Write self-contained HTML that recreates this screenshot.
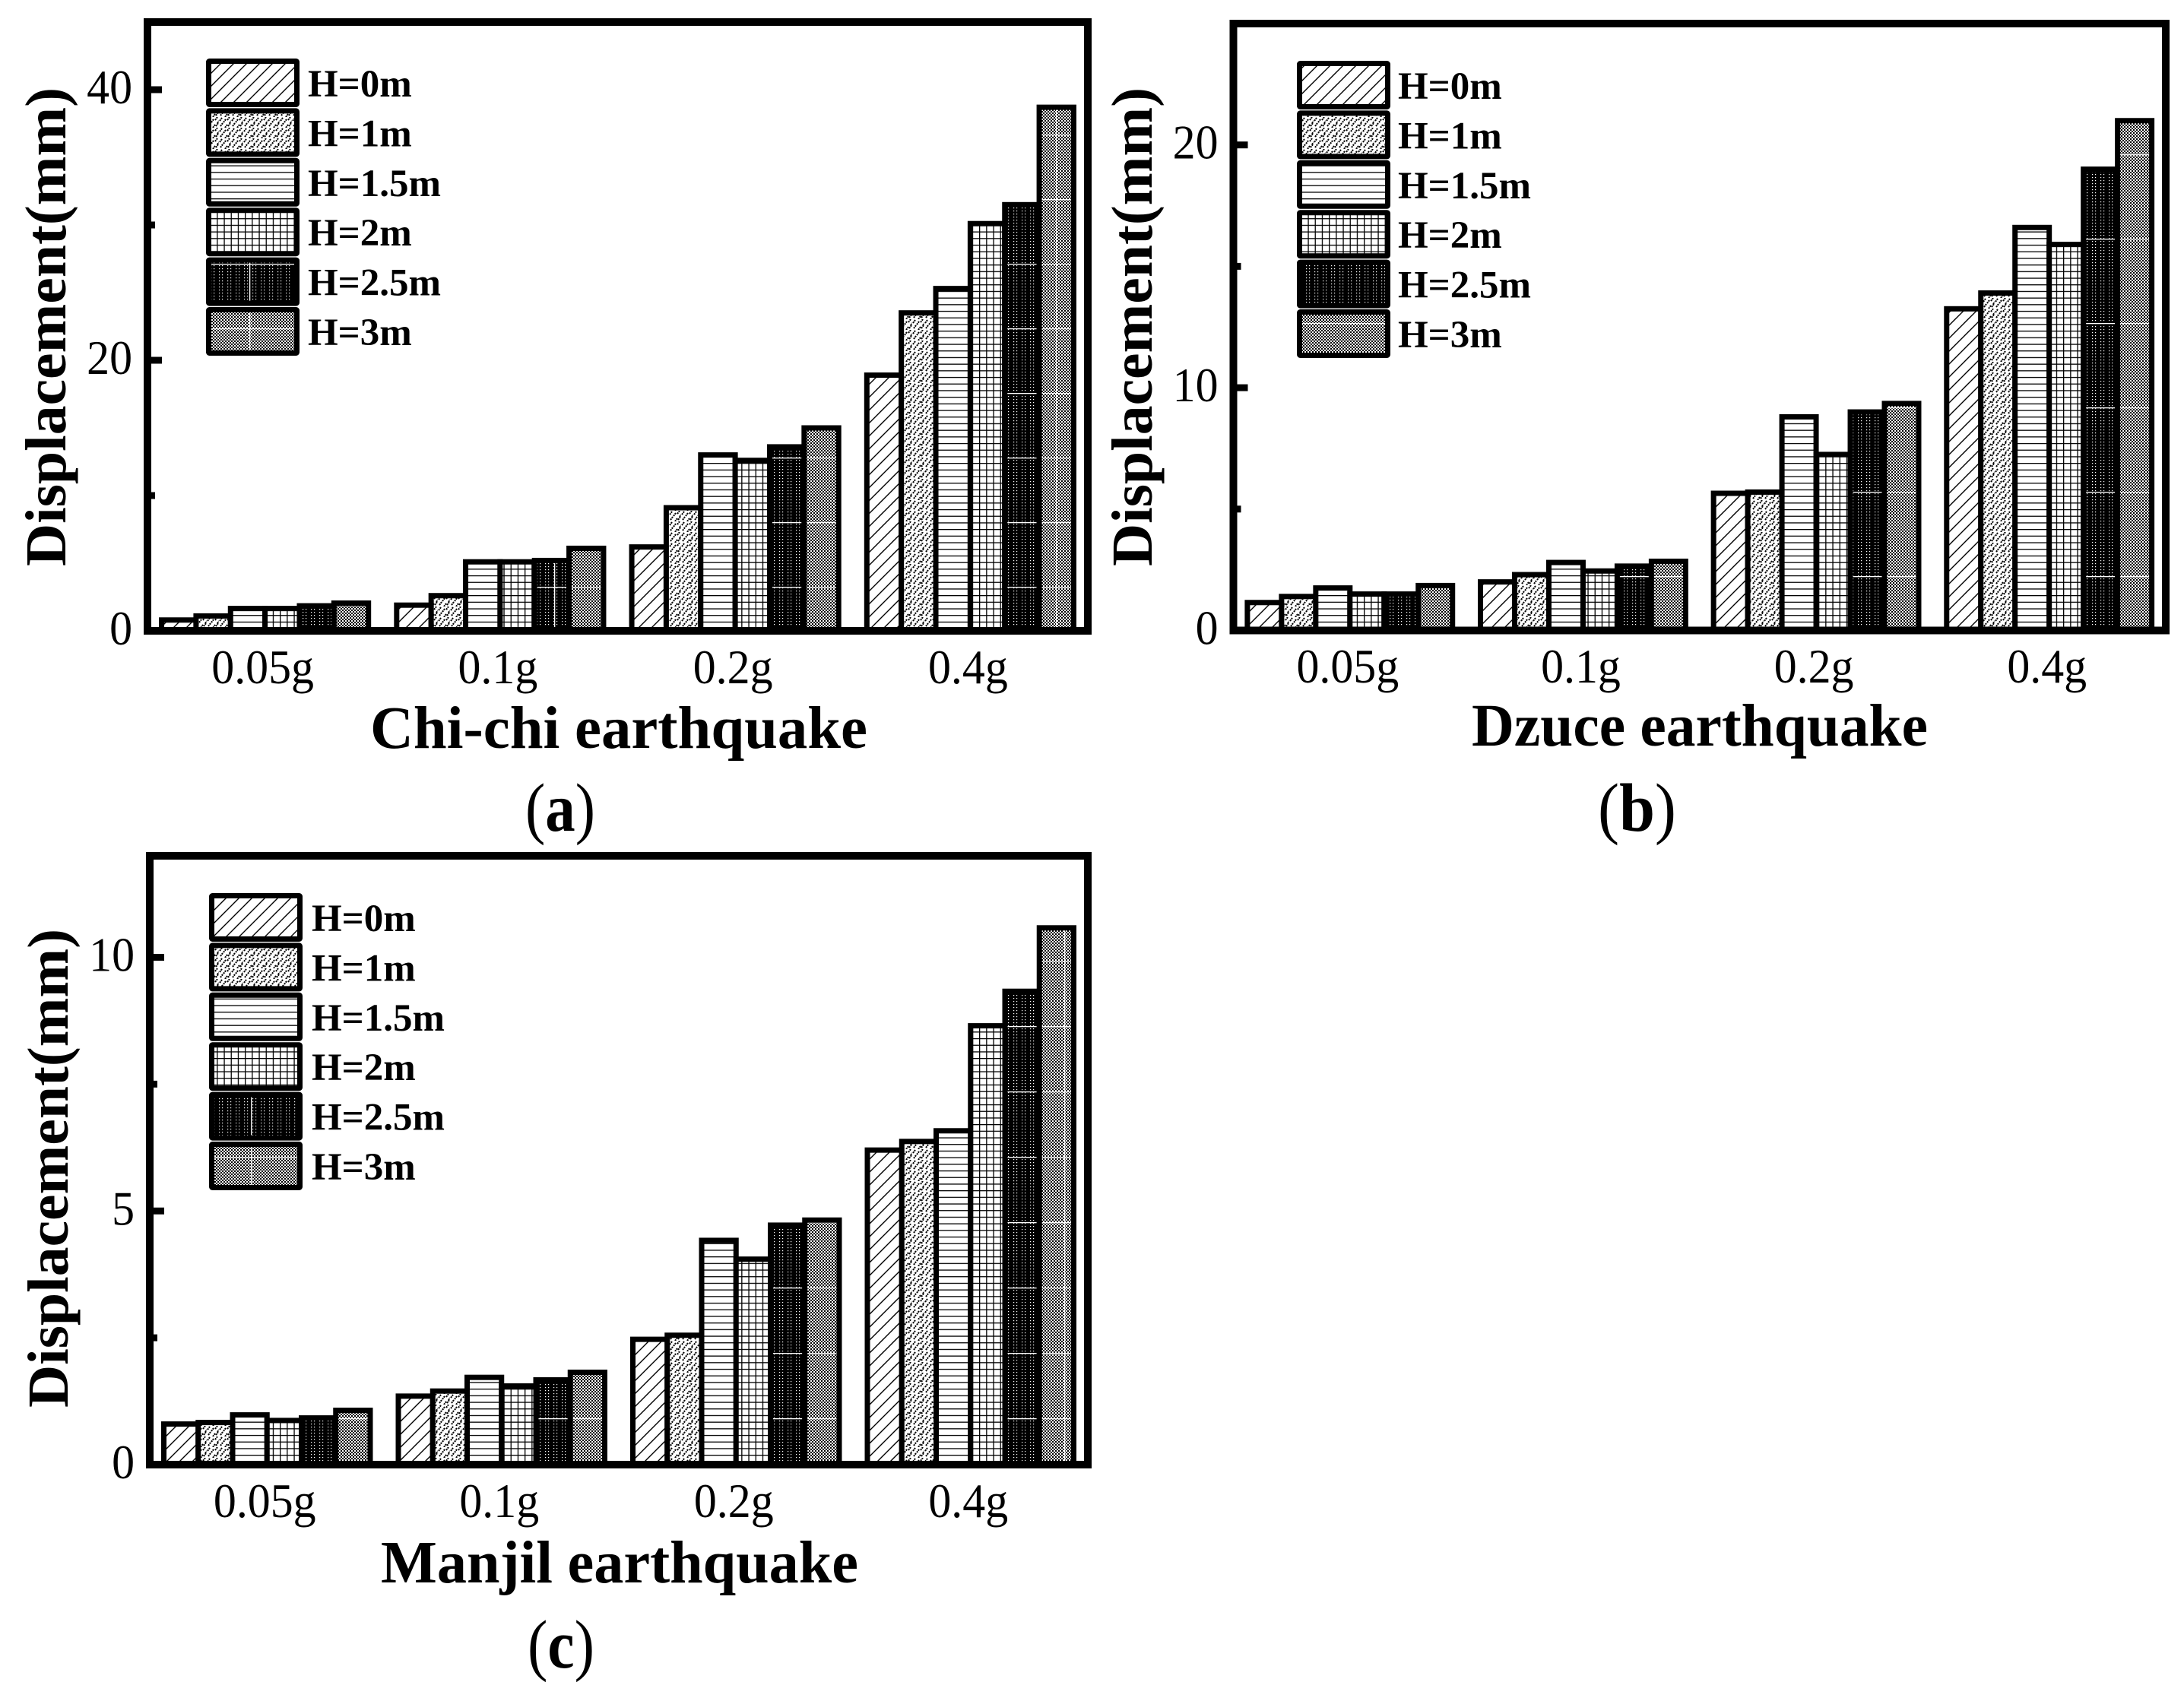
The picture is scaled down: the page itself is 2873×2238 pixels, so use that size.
<!DOCTYPE html>
<html lang="en">
<head>
<meta charset="utf-8">
<title>Displacement under earthquakes</title>
<style>
html,body{margin:0;padding:0;background:#fff;}
svg{display:block;}
text{font-family:"Liberation Serif",serif;fill:#000;}
.b{font-weight:bold;}
.tick{font-size:63px;}
.leg{font-size:51px;font-weight:bold;}
.ytitle{font-size:76px;font-weight:bold;}
.xtitle{font-size:79px;font-weight:bold;}
.panel{font-size:90px;}
</style>
</head>
<body>
<svg id="fig" xmlns="http://www.w3.org/2000/svg" width="2873" height="2238" viewBox="0 0 2873 2238">
<defs>
<pattern id="p0" patternUnits="userSpaceOnUse" width="17" height="17">
<rect width="17" height="17" fill="#fff"/>
<path d="M-2 19L19 -2M-2 2L2 -2M15 19L19 15" stroke="#000" stroke-width="1.4" fill="none"/>
</pattern>
<pattern id="p1" patternUnits="userSpaceOnUse" width="16" height="14">
<rect width="16" height="14" fill="#fff"/>
<path d="M1 5l3-4M6 7l3-4M11 4l3-4M14 8l2-3M2 12l3-4M8 14l3-4M12 12l3-4" stroke="#000" stroke-width="2" fill="none" stroke-dasharray="2 1"/>
</pattern>
<pattern id="p2" patternUnits="userSpaceOnUse" width="9" height="8.7">
<rect width="9" height="8.7" fill="#fff"/>
<rect y="0" width="9" height="1.3" fill="#000"/>
</pattern>
<pattern id="p3" patternUnits="userSpaceOnUse" width="9.2" height="8.7">
<rect width="9.2" height="8.7" fill="#fff"/>
<rect y="0" width="9.2" height="1.3" fill="#000"/>
<rect x="0" width="1.3" height="8.7" fill="#000"/>
</pattern>
<pattern id="p4" patternUnits="userSpaceOnUse" width="11" height="4">
<rect width="11" height="4" fill="#000"/>
<rect x="2" y="1" width="1.2" height="1.2" fill="#fff"/>
<rect x="6" y="1" width="1.2" height="1.2" fill="#fff"/>
</pattern>
<pattern id="p5" patternUnits="userSpaceOnUse" width="4" height="4">
<rect width="4" height="4" fill="#fff"/>
<rect width="2" height="2" fill="#000"/>
<rect x="2" y="2" width="2" height="2" fill="#000"/>
</pattern>
<pattern id="ovA" patternUnits="userSpaceOnUse" x="0" y="7" width="2873" height="85">
<rect width="2873" height="1.3" fill="#fff"/>
<rect x="328" width="1.3" height="85" fill="#fff"/>
<rect x="729" width="1.3" height="85" fill="#fff"/>
<rect x="1389" width="1.3" height="85" fill="#fff"/>
</pattern>
<pattern id="ovB" patternUnits="userSpaceOnUse" x="0" y="92" width="2873" height="111">
<rect width="2873" height="1.3" fill="#fff"/>
</pattern>
<pattern id="ovC" patternUnits="userSpaceOnUse" x="0" y="60" width="2873" height="86">
<rect width="2873" height="1.3" fill="#fff"/>
<rect x="330" width="1.3" height="86" fill="#fff"/>
<rect x="1400" width="1.3" height="86" fill="#fff"/>
</pattern>
</defs>

<g id="chart-a"></g>
<g id="chart-b"></g>
<g id="chart-c"></g>

<text class="ytitle" transform="translate(86,745) rotate(-90)" textLength="630" lengthAdjust="spacingAndGlyphs">Displacement(mm)</text>
<text class="ytitle" transform="translate(1515,745) rotate(-90)" textLength="630" lengthAdjust="spacingAndGlyphs">Displacement(mm)</text>
<text class="ytitle" transform="translate(89,1852) rotate(-90)" textLength="630" lengthAdjust="spacingAndGlyphs">Displacement(mm)</text>

<text class="xtitle" x="487" y="984" textLength="654" lengthAdjust="spacingAndGlyphs">Chi-chi earthquake</text>
<text class="xtitle" x="1936" y="981" textLength="600" lengthAdjust="spacingAndGlyphs">Dzuce earthquake</text>
<text class="xtitle" x="501" y="2082" textLength="628" lengthAdjust="spacingAndGlyphs">Manjil earthquake</text>

<text class="panel" x="691" y="1093" textLength="92" lengthAdjust="spacingAndGlyphs">(<tspan class="b">a</tspan>)</text>
<text class="panel" x="2102" y="1093" textLength="103" lengthAdjust="spacingAndGlyphs">(<tspan class="b">b</tspan>)</text>
<text class="panel" x="694" y="2194" textLength="88" lengthAdjust="spacingAndGlyphs">(<tspan class="b">c</tspan>)</text>
</svg>

<script>
const categories = ['0.05g', '0.1g', '0.2g', '0.4g'];
const seriesLabels = ['H=0m', 'H=1m', 'H=1.5m', 'H=2m', 'H=2.5m', 'H=3m'];

const chichiH0 = [0.8, 1.9, 6.2, 18.9];
const chichiH1 = [1.1, 2.6, 9.1, 23.5];
const chichiH15 = [1.65, 5.1, 13.0, 25.3];
const chichiH2 = [1.65, 5.1, 12.6, 30.1];
const chichiH25 = [1.85, 5.2, 13.6, 31.5];
const chichiH3 = [2.05, 6.1, 15.0, 38.7];
const chichiTicks = [0, 20, 40];
const chichiMinorTicks = [10, 30];
const chichiMax = 45;

const dzuceH0 = [1.15, 2.0, 5.65, 13.25];
const dzuceH1 = [1.4, 2.3, 5.7, 13.9];
const dzuceH15 = [1.75, 2.8, 8.8, 16.6];
const dzuceH2 = [1.5, 2.45, 7.25, 15.9];
const dzuceH25 = [1.5, 2.65, 9.0, 19.0];
const dzuceH3 = [1.85, 2.85, 9.35, 21.0];
const dzuceTicks = [0, 10, 20];
const dzuceMinorTicks = [5, 15];
const dzuceMax = 25;

const manjilH0 = [0.8, 1.35, 2.47, 6.2];
const manjilH1 = [0.83, 1.45, 2.55, 6.37];
const manjilH15 = [0.98, 1.72, 4.42, 6.58];
const manjilH2 = [0.87, 1.55, 4.05, 8.65];
const manjilH25 = [0.92, 1.67, 4.72, 9.33];
const manjilH3 = [1.07, 1.82, 4.82, 10.58];
const manjilTicks = [0, 5, 10];
const manjilMinorTicks = [2.5, 7.5];
const manjilMax = 12;

const SVGNS = 'http://www.w3.org/2000/svg';

function make(parent, tag, attrs) {
  const el = document.createElementNS(SVGNS, tag);
  for (const k in attrs) el.setAttribute(k, attrs[k]);
  parent.appendChild(el);
  return el;
}

function squeeze(label) {
  label.setAttribute('textLength', label.getComputedTextLength() * 0.95);
  label.setAttribute('lengthAdjust', 'spacingAndGlyphs');
}

function drawChart(cfg) {
  const root = document.getElementById(cfg.id);
  const plotW = cfg.right - cfg.left;
  const band = plotW / categories.length;
  const groupW = band * 0.88;
  const barW = groupW / cfg.series.length;
  const yPos = function (v) { return cfg.bottom - v * (cfg.bottom - cfg.top) / cfg.max; };
  const xPos = function (c, s) { return cfg.left + band * c + (band - groupW) / 2 + barW * s; };

  cfg.series.forEach(function (values, s) {
    values.forEach(function (v, c) {
      const g = make(root, 'g', {});
      
      
      const geom = { x: xPos(c, s), y: yPos(v), width: barW, height: cfg.bottom - yPos(v) };
      const fill = make(g, 'rect', Object.assign({ fill: 'url(#p' + s + ')' }, geom));
      
      
      if (s >= 4) {
        const over = make(g, 'rect', Object.assign({ fill: 'url(#' + cfg.overlay + ')' }, geom));
        
        
      }
      const outline = make(g, 'rect', Object.assign({ fill: 'none', stroke: '#000', 'stroke-width': 7 }, geom));
      
      
    });
  });

  const frame = make(root, 'rect', { x: cfg.left, y: cfg.top, width: plotW, height: cfg.bottom - cfg.top, fill: 'none', stroke: '#000', 'stroke-width': 10 });
  
  

  cfg.ticks.forEach(function (t) {
    const tick = make(root, 'rect', { x: cfg.left, y: yPos(t) - 4.5, width: 19, height: 9, fill: '#000' });
    
    
    const label = make(root, 'text', { x: cfg.left - 20, y: yPos(t) + 18, 'text-anchor': 'end', class: 'tick' });
    label.textContent = String(t);
    
    
    squeeze(label);
  });

  cfg.minor.forEach(function (t) {
    const tick = make(root, 'rect', { x: cfg.left, y: yPos(t) - 4.5, width: 10, height: 9, fill: '#000' });
    
    
  });

  categories.forEach(function (name, c) {
    const label = make(root, 'text', { x: cfg.left + band * (c + 0.5) - 3, y: cfg.labelY, 'text-anchor': 'middle', class: 'tick' });
    label.textContent = name;
    
    
    squeeze(label);
  });

  seriesLabels.forEach(function (name, s) {
    const rowY = cfg.legendY + s * 65.4;
    const entry = make(root, 'g', {});
    
    
    const geom = { x: cfg.legendX + 3.5, y: rowY + 3.5, width: 116, height: 57, rx: 1 };
    const swatch = make(entry, 'rect', Object.assign({ fill: 'url(#p' + s + ')' }, geom));
    
    
    if (s >= 4) {
      const over = make(entry, 'rect', Object.assign({ fill: 'url(#' + cfg.overlay + ')' }, geom));
      
      
    }
    const border = make(entry, 'rect', Object.assign({ fill: 'none', stroke: '#000', 'stroke-width': 7 }, geom));
    
    
    const label = make(entry, 'text', { x: cfg.legendTextX, y: rowY + 50, class: 'leg' });
    label.textContent = name;
    
    
  });
}

drawChart({
  id: 'chart-a', left: 194, right: 1431, top: 29, bottom: 830, max: chichiMax,
  ticks: chichiTicks, minor: chichiMinorTicks, labelY: 899, overlay: 'ovA',
  legendX: 271, legendY: 77, legendTextX: 405,
  series: [chichiH0, chichiH1, chichiH15, chichiH2, chichiH25, chichiH3]
});
drawChart({
  id: 'chart-b', left: 1622.5, right: 2849, top: 31, bottom: 829.5, max: dzuceMax,
  ticks: dzuceTicks, minor: dzuceMinorTicks, labelY: 898, overlay: 'ovB',
  legendX: 1706, legendY: 80, legendTextX: 1839,
  series: [dzuceH0, dzuceH1, dzuceH15, dzuceH2, dzuceH25, dzuceH3]
});
drawChart({
  id: 'chart-c', left: 197, right: 1431, top: 1126, bottom: 1927, max: manjilMax,
  ticks: manjilTicks, minor: manjilMinorTicks, labelY: 1996, overlay: 'ovC',
  legendX: 275, legendY: 1175, legendTextX: 410,
  series: [manjilH0, manjilH1, manjilH15, manjilH2, manjilH25, manjilH3]
});
</script>
</body>
</html>
